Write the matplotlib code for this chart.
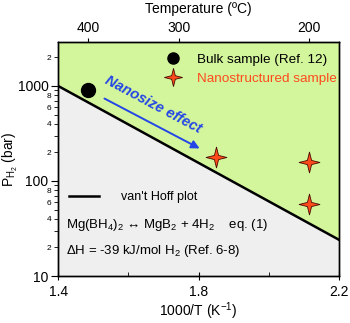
import numpy as np
import matplotlib
matplotlib.use('Agg')
import matplotlib.pyplot as plt
from matplotlib.path import Path
from matplotlib.lines import Line2D
from matplotlib.ticker import LogLocator, FuncFormatter, FixedLocator

plt.rcParams['font.family'] = ['Liberation Sans', 'DejaVu Sans']
plt.rcParams['mathtext.fontset'] = 'custom'
plt.rcParams['mathtext.rm'] = 'Liberation Sans'
plt.rcParams['mathtext.default'] = 'regular'

# data
vh_x = [1.4, 2.2]            # van't Hoff line, 1000/T
vh_p = [1000, 24]            # pressure (bar)
bulk_x = [1.486]
bulk_p = [900]
nano_x = [1.85, 2.115, 2.115]
nano_p = [178, 158, 57]
top_temps = [400, 300, 200]  # deg C

green = '#d3f59b'
grey = '#efefef'
star_red = '#ff4a1c'
blue = '#2446e6'

# 4-pointed star marker
star = Path([(0, 1), (0.2, 0.2), (1, 0), (0.2, -0.2), (0, -1),
             (-0.2, -0.2), (-1, 0), (-0.2, 0.2), (0, 1)],
            [Path.MOVETO] + [Path.LINETO] * 7 + [Path.CLOSEPOLY])

fig = plt.figure(figsize=(3.5, 3.23), dpi=100)
ax = fig.add_axes([0.166, 0.1455, 0.803, 0.7245])

ymin, ymax = 10, 2900
ax.fill_between(vh_x, vh_p, ymax, color=green, lw=0, zorder=0)
ax.fill_between(vh_x, ymin, vh_p, color=grey, lw=0, zorder=0)
ax.plot(vh_x, vh_p, color='black', lw=1.8, zorder=2)

ax.plot(bulk_x, bulk_p, 'o', color='black', ms=10, zorder=3)
ax.plot(nano_x, nano_p, ls='none', marker=star, ms=15, color=star_red,
        mec='#4a0a00', mew=0.6, zorder=3)

ax.set_yscale('log')
ax.set_xlim(1.4, 2.2)
ax.set_ylim(ymin, ymax)

ax.set_xticks([1.4, 1.8, 2.2])
ax.xaxis.set_minor_locator(FixedLocator([1.6, 2.0]))
ax.tick_params(axis='x', which='major', labelsize=10, direction='inout', length=6)
ax.tick_params(axis='x', which='minor', direction='in', length=3)

ax.yaxis.set_major_locator(LogLocator(base=10))
ax.yaxis.set_minor_locator(LogLocator(base=10, subs=np.arange(2, 10)))


def minor_fmt(v, pos):
    m = round(v / 10 ** np.floor(np.log10(v) + 1e-9))
    return str(m) if m in (2, 4, 6, 8) else ''


ax.yaxis.set_major_formatter(FuncFormatter(lambda v, p: '%d' % v))
ax.yaxis.set_minor_formatter(FuncFormatter(minor_fmt))
ax.tick_params(axis='y', which='major', labelsize=10, direction='out', length=5, pad=2)
ax.tick_params(axis='y', which='minor', labelsize=6, direction='out', length=3, pad=2)

ax.set_xlabel('1000/T (K$^{-1}$)', fontsize=10)
ax.xaxis.set_label_coords(0.5, -0.103)
ax.set_ylabel('P$_{H_2}$ (bar)', fontsize=10)
ax.yaxis.set_label_coords(-0.135, 0.5)

# top temperature axis
tax = ax.twiny()
tax.set_xlim(ax.get_xlim())
tax.set_xticks([1000 / (t + 273.15) for t in top_temps])
tax.set_xticklabels([str(t) for t in top_temps])
tax.tick_params(axis='x', labelsize=10, direction='out', length=3, pad=2)
tax.set_xlabel('Temperature (ºC)', fontsize=10, labelpad=6)

for a in (ax, tax):
    for s in a.spines.values():
        s.set_linewidth(1.0)

# nanosize arrow
ax.annotate('', xy=(1.81, 213), xytext=(1.525, 760),
            arrowprops=dict(arrowstyle='-|>', color=blue, lw=1.4,
                            mutation_scale=12), zorder=4)
ax.text(1.67, 630, 'Nanosize effect', color=blue, fontsize=10.5,
        fontweight='bold', fontstyle='italic', rotation=-28,
        ha='center', va='center', zorder=4)

# legends
h1 = Line2D([], [], ls='none', marker='o', color='black', ms=8)
h2 = Line2D([], [], ls='none', marker=star, ms=13, color=star_red,
            mec='#4a0a00', mew=0.6)
leg = ax.legend([h1, h2], ['Bulk sample (Ref. 12)', 'Nanostructured sample'],
                loc='upper left', bbox_to_anchor=(0.36, 0.975), frameon=False,
                fontsize=9.7, handlelength=1.2, handletextpad=1.2,
                labelspacing=0.5, borderaxespad=0)
leg.get_texts()[1].set_color(star_red)
ax.add_artist(leg)

h3 = Line2D([], [], color='black', lw=1.8)
ax.legend([h3], ["van't Hoff plot"], loc='center left',
          bbox_to_anchor=(0.02, 0.338), frameon=False, fontsize=9,
          handlelength=2.4, handletextpad=1.75, borderaxespad=0)

ax.text(0.028, 0.218, 'Mg(BH$_4$)$_2$ \u2194 MgB$_2$ + 4H$_2$    eq. (1)',
        transform=ax.transAxes, fontsize=9.5, va='center', ha='left')
ax.text(0.028, 0.107, '\u0394H = -39 kJ/mol H$_2$ (Ref. 6-8)',
        transform=ax.transAxes, fontsize=9.5, va='center', ha='left')

fig.savefig('out.png', dpi=100)
